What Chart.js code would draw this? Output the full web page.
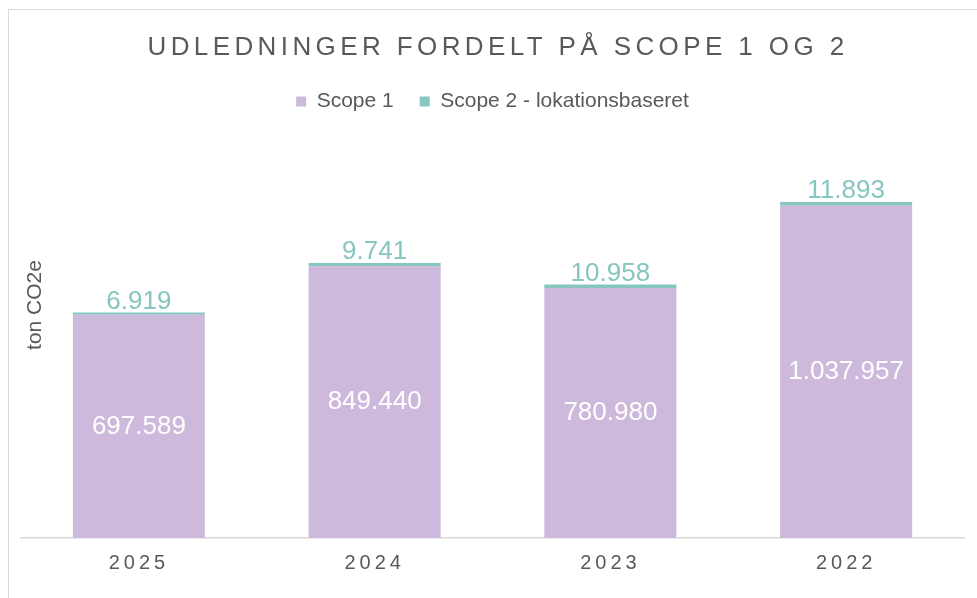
<!DOCTYPE html>
<html>
<head>
<meta charset="utf-8">
<script src="https://cdn.jsdelivr.net/npm/chart.js@4"></script>
<style>
  body { margin: 0; background: #ffffff; }
  #wrap { position: relative; width: 977px; height: 598px; overflow: hidden; }
  #frame { position: absolute; left: 8px; top: 9px; width: 990px; height: 610px; border: 1px solid #d9d9d9; }
  #udledning_chart { position: absolute; left: 0; top: 0; }
</style>
</head>
<body>
<div id="wrap">
  <div id="frame"></div>
  <canvas id="udledning_chart" width="977" height="598"></canvas>
</div>
<script>
// data
var years = ['2025', '2024', '2023', '2022'];
var scope1 = [697589, 849440, 780980, 1037957];
var scope2 = [6919, 9741, 10958, 11893];
var y_max = 1300000;

var purple = '#CDB9DB';
var teal = '#86C5C0';
var grey_text = '#595959';
var font_family = '"Liberation Sans", Arial, Helvetica, sans-serif';

// 1037957 -> 1.037.957
function fmt(v) {
    return String(v).replace(/\B(?=(\d{3})+(?!\d))/g, '.');
}

var labelPlugin = {
    id: 'labelPlugin',
    afterDatasetsDraw: function(chart) {
        var ctx = chart.ctx;
        ctx.save();
        ctx.letterSpacing = '0px';
        ctx.font = '26px ' + font_family;
        ctx.textAlign = 'center';
        chart.getDatasetMeta(0).data.forEach(function(bar, i) {
            ctx.fillStyle = '#ffffff';
            ctx.textBaseline = 'middle';
            ctx.fillText(fmt(scope1[i]), bar.x, (bar.y + bar.base) / 2);
        });
        chart.getDatasetMeta(1).data.forEach(function(bar, i) {
            ctx.fillStyle = teal;
            ctx.textBaseline = 'alphabetic';
            ctx.fillText(fmt(scope2[i]), bar.x, bar.y - 4);
        });
        ctx.restore();
        // x tick labels come after this (ticks.z = 1), spaced out like the original
        ctx.letterSpacing = '4px';
    },
    afterDraw: function(chart) {
        var ctx = chart.ctx;
        ctx.save();
        // title
        ctx.letterSpacing = '4.4px';
        ctx.font = '26px ' + font_family;
        ctx.fillStyle = grey_text;
        ctx.textAlign = 'center';
        ctx.textBaseline = 'middle';
        ctx.fillText('UDLEDNINGER FORDELT PÅ SCOPE 1 OG 2', 498, 48);
        // y axis title
        ctx.letterSpacing = '0px';
        ctx.font = '21px ' + font_family;
        ctx.translate(35, 305);
        ctx.rotate(-Math.PI / 2);
        ctx.fillText('ton CO2e', 0, 0);
        ctx.restore();
        ctx.letterSpacing = '0px';
    }
};

var udledning_canvas = document.getElementById('udledning_chart');
var udledning_chart = new Chart(udledning_canvas, {
    type: 'bar',
    data: {
        labels: years,
        datasets: [{
            label: 'Scope 1',
            data: scope1,
            backgroundColor: purple,
            borderWidth: 0,
            barPercentage: 0.56,
            categoryPercentage: 1.0,
        },
        {
            label: 'Scope 2 - lokationsbaseret',
            data: scope2,
            backgroundColor: teal,
            borderWidth: 0,
            barPercentage: 0.56,
            categoryPercentage: 1.0,
        }]
    },
    options: {
        responsive: false,
        animation: false,
        layout: {
            padding: { top: 65, left: 21, right: 13, bottom: 10 }
        },
        plugins: {
            title: { display: false },
            tooltip: { enabled: false },
            legend: {
                position: 'top',
                labels: {
                    color: grey_text,
                    boxWidth: 10,
                    boxHeight: 10,
                    padding: 26,
                    font: { size: 21, family: font_family }
                }
            }
        },
        scales: {
            x: {
                stacked: true,
                grid: { display: false, drawTicks: false },
                border: { display: true, color: '#d9d9d9', width: 1.5 },
                ticks: {
                    z: 1,
                    color: grey_text,
                    padding: 13,
                    font: { size: 20, family: font_family }
                }
            },
            y: {
                stacked: true,
                display: false,
                beginAtZero: true,
                max: y_max
            }
        }
    },
    plugins: [labelPlugin]
});
</script>
</body>
</html>
